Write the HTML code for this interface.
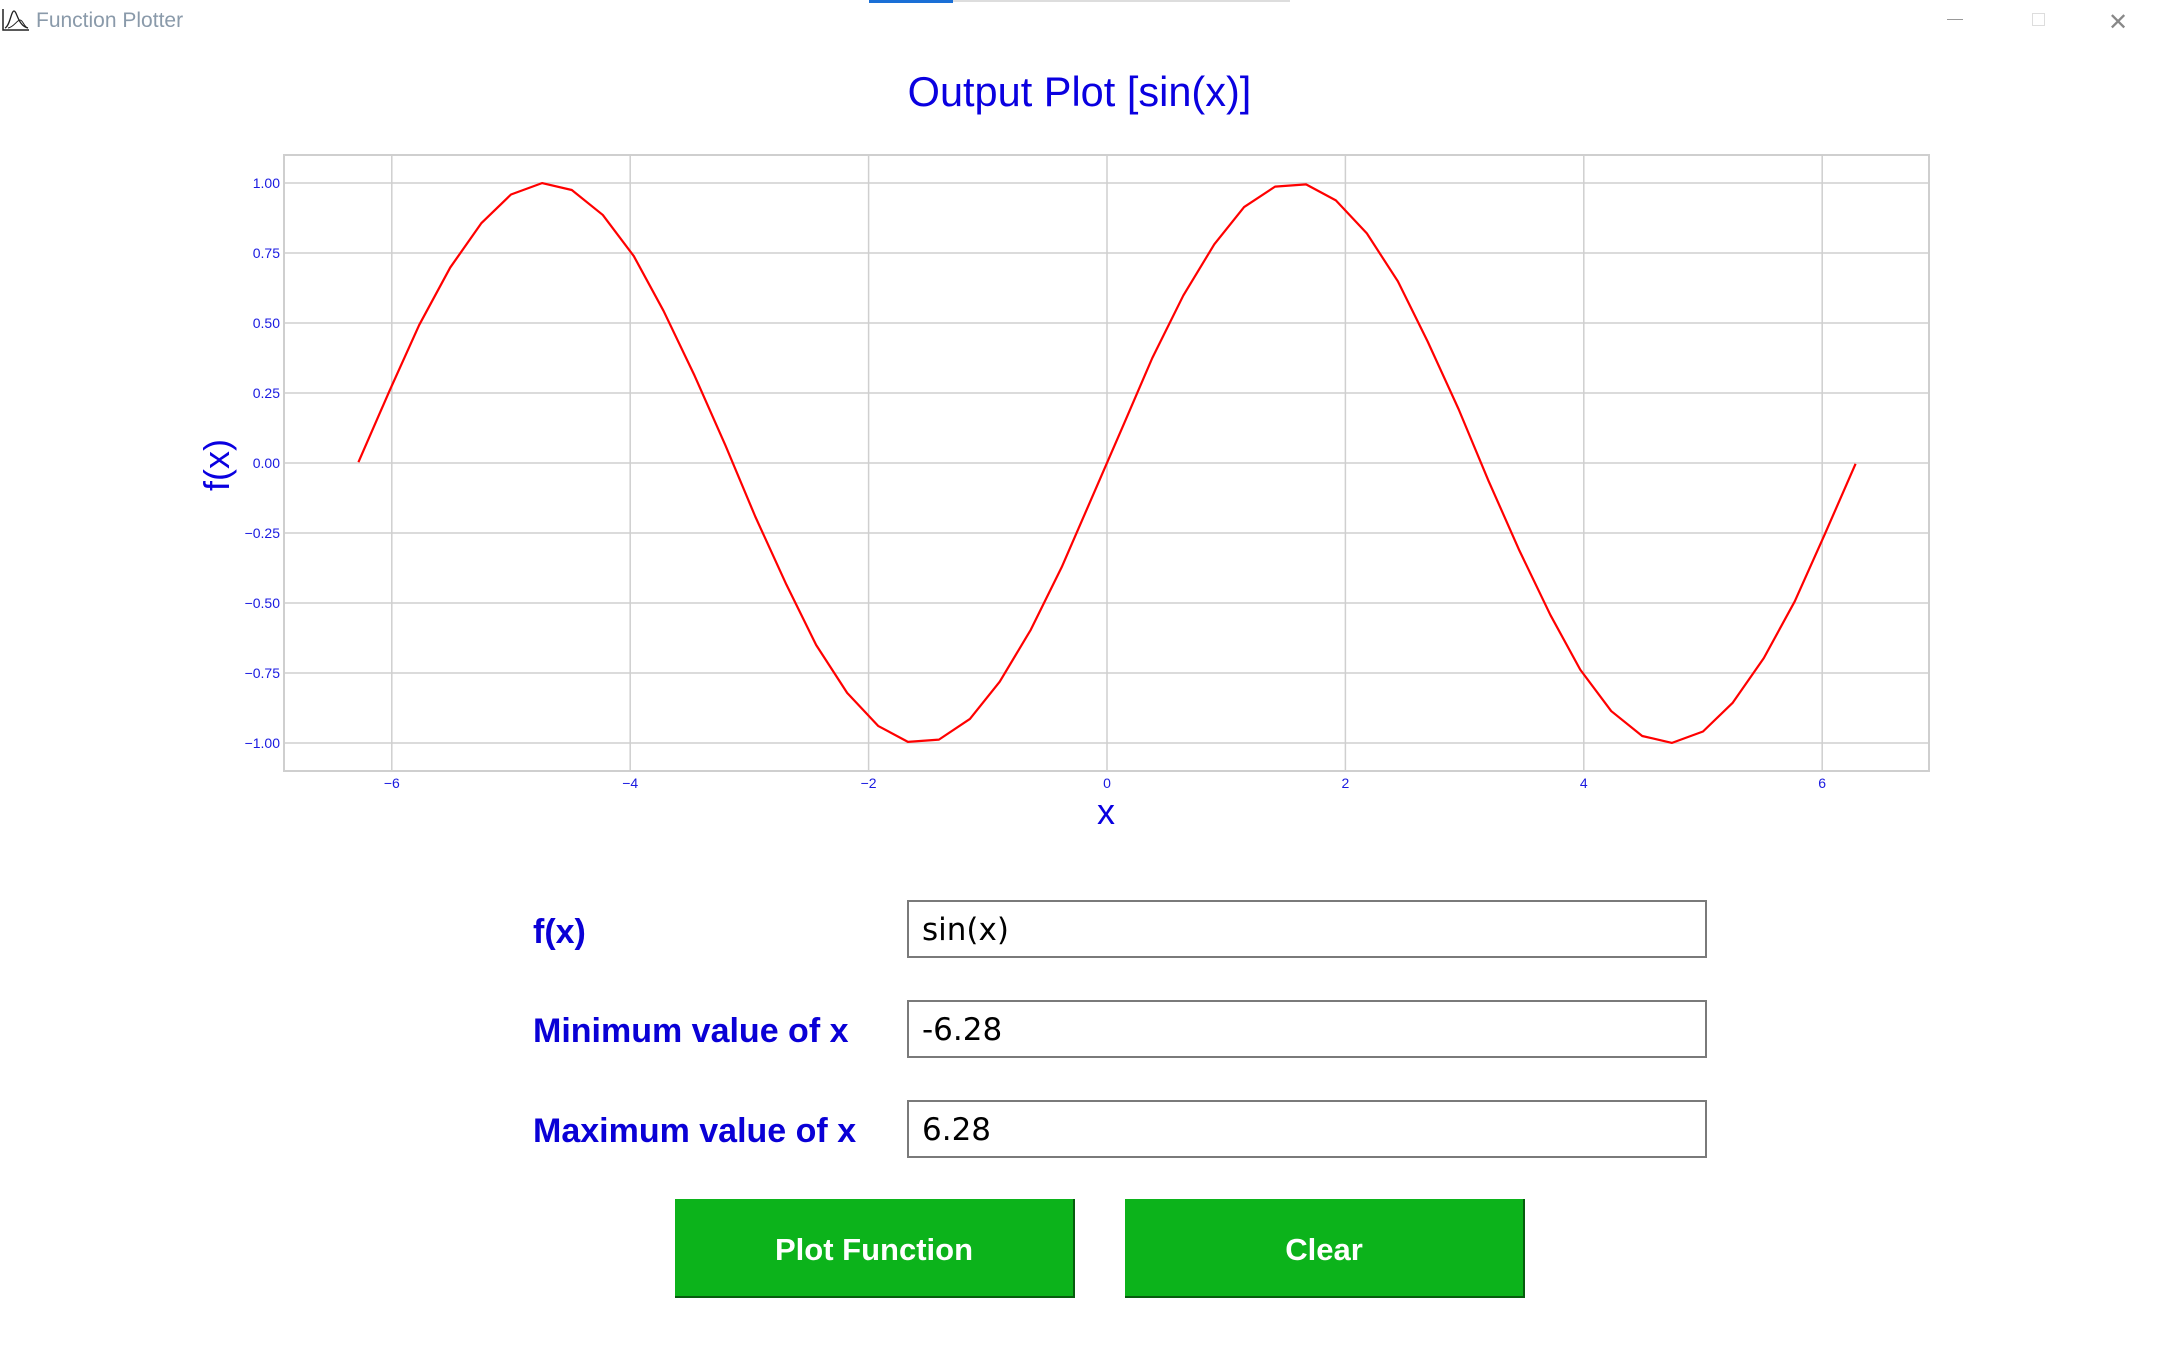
<!DOCTYPE html>
<html><head><meta charset="utf-8">
<style>
html,body{margin:0;padding:0;background:#fff;width:2159px;height:1366px;overflow:hidden;position:relative;font-family:"Liberation Sans",sans-serif}
.abs{position:absolute}
.lbl{position:absolute;left:533px;color:#0a00d6;font-weight:bold;font-size:34px;font-family:"Liberation Sans",sans-serif;line-height:1}
.inp{position:absolute;left:907px;width:800px;height:58px;border:2px solid #7a7a7a;box-sizing:border-box;font-size:31px;font-family:"DejaVu Sans","Liberation Sans",sans-serif;color:#000;padding-left:13px;line-height:56px}
.btn{position:absolute;top:1199px;width:400px;height:99px;background:#0cb31b;border-right:2px solid #075c0e;border-bottom:2px solid #075c0e;box-sizing:border-box;color:#fff;font-weight:bold;font-size:31px;font-family:"Liberation Sans",sans-serif;text-align:center;line-height:101px}
</style></head><body>
<div class="abs" style="left:0;top:0;width:2159px;height:40px">
 <svg class="abs" style="left:2px;top:8px" width="28" height="24" viewBox="0 0 28 24"><path d="M1 1 V22 H27" stroke="#222" fill="none" stroke-width="1.5"/><path d="M3 20 C8 18 9 3 12 3 C15 3 16 18 26 20" stroke="#222" fill="none" stroke-width="1.3"/><path d="M6 20 C12 19 15 12 18 12 C21 12 22 19 26 20" stroke="#222" fill="none" stroke-width="1"/></svg>
 <div class="abs" style="left:36px;top:9px;font-size:21px;color:#8a9aaa">Function Plotter</div>
 <div class="abs" style="left:869px;top:0;width:84px;height:3px;background:#1a6fd6"></div>
 <div class="abs" style="left:953px;top:0;width:337px;height:2px;background:#ddd"></div>
 <div class="abs" style="left:1947px;top:19px;width:16px;height:1px;background:#999"></div>
 <div class="abs" style="left:2032px;top:13px;width:11px;height:11px;border:1px solid #ddd"></div>
 <div class="abs" style="left:2108px;top:8px;font-size:24px;color:#888">✕</div>
</div>
<div class="abs" style="left:0;width:2159px;top:68px;text-align:center;font-size:41.5px;color:#0a00e0">Output Plot [sin(x)]</div>
<svg id="chart" class="abs" style="left:0;top:0" width="2159" height="860"></svg>
<div class="lbl" style="top:915px">f(x)</div>
<div class="lbl" style="top:1014px">Minimum value of x</div>
<div class="lbl" style="top:1114px">Maximum value of x</div>
<div class="inp" style="top:900px">sin(x)</div>
<div class="inp" style="top:1000px">-6.28</div>
<div class="inp" style="top:1100px">6.28</div>
<div class="btn" style="left:675px">Plot Function</div>
<div class="btn" style="left:1125px">Clear</div>
<script>
const xValues=[-6.28,-6.02,-5.77,-5.51,-5.25,-5.00,-4.74,-4.49,-4.23,-3.97,-3.72,-3.46,-3.20,-2.95,-2.69,-2.44,-2.18,-1.92,-1.67,-1.41,-1.15,-0.90,-0.64,-0.38,-0.13,0.13,0.38,0.64,0.90,1.15,1.41,1.67,1.92,2.18,2.44,2.69,2.95,3.20,3.46,3.72,3.97,4.23,4.49,4.74,5.00,5.25,5.51,5.77,6.02,6.28];
const yValues=[0.003,0.257,0.493,0.698,0.856,0.959,0.9996,0.975,0.886,0.739,0.543,0.312,0.062,-0.192,-0.434,-0.650,-0.821,-0.939,-0.996,-0.988,-0.914,-0.781,-0.596,-0.372,-0.127,0.128,0.375,0.598,0.781,0.914,0.987,0.995,0.938,0.820,0.649,0.434,0.192,-0.063,-0.313,-0.543,-0.738,-0.886,-0.975,-0.9996,-0.959,-0.856,-0.697,-0.494,-0.256,-0.003];
const xTicks=[-6,-4,-2,0,2,4,6];
const yTicks=[1.00,0.75,0.50,0.25,0.00,-0.25,-0.50,-0.75,-1.00];
const L=284,R=1929,T=155,B=771;
const sx=v=>1107+v*119.2;
const sy=v=>463-v*280;
const NS='http://www.w3.org/2000/svg';
const svg=document.getElementById('chart');
function mk(tag,attrs){const e=document.createElementNS(NS,tag);for(const k in attrs)e.setAttribute(k,attrs[k]);svg.appendChild(e);return e;}
const frame=mk('rect',{x:L,y:T,width:R-L,height:B-T,fill:'none',stroke:'#cfcfcf','stroke-width':2});


xTicks.forEach(v=>{
 const g=mk('line',{x1:sx(v),x2:sx(v),y1:T,y2:B,stroke:'#cfcfcf','stroke-width':1.5});
 
 
 const t=mk('text',{x:sx(v),y:B+17,'text-anchor':'middle','font-size':14,fill:'#1a1ae0','font-family':'Liberation Sans, sans-serif'});
 t.textContent=v===0?'0':(v<0?'\u2212'+(-v):String(v));
 
 
});
yTicks.forEach(v=>{
 const g=mk('line',{x1:L,x2:R,y1:sy(v),y2:sy(v),stroke:'#cfcfcf','stroke-width':1.5});
 
 
 const t=mk('text',{x:280,y:sy(v)+5,'text-anchor':'end','font-size':14,fill:'#1a1ae0','font-family':'Liberation Sans, sans-serif'});
 t.textContent=(v<0?'\u2212':'')+Math.abs(v).toFixed(2);
 
 
});
const line=mk('polyline',{points:xValues.map((x,i)=>sx(x)+','+sy(yValues[i])).join(' '),fill:'none',stroke:'#ff0000','stroke-width':2.2,'stroke-linejoin':'round'});


const xl=mk('text',{x:1106,y:824,'text-anchor':'middle','font-size':36,fill:'#0a00e0','font-family':'Liberation Sans, sans-serif'});
xl.textContent='x';


const yl=mk('text',{x:0,y:0,'text-anchor':'middle','font-size':36,fill:'#0a00e0','font-family':'Liberation Sans, sans-serif',transform:'translate(229,465) rotate(-90)'});
yl.textContent='f(x)';


</script>
</body></html>
